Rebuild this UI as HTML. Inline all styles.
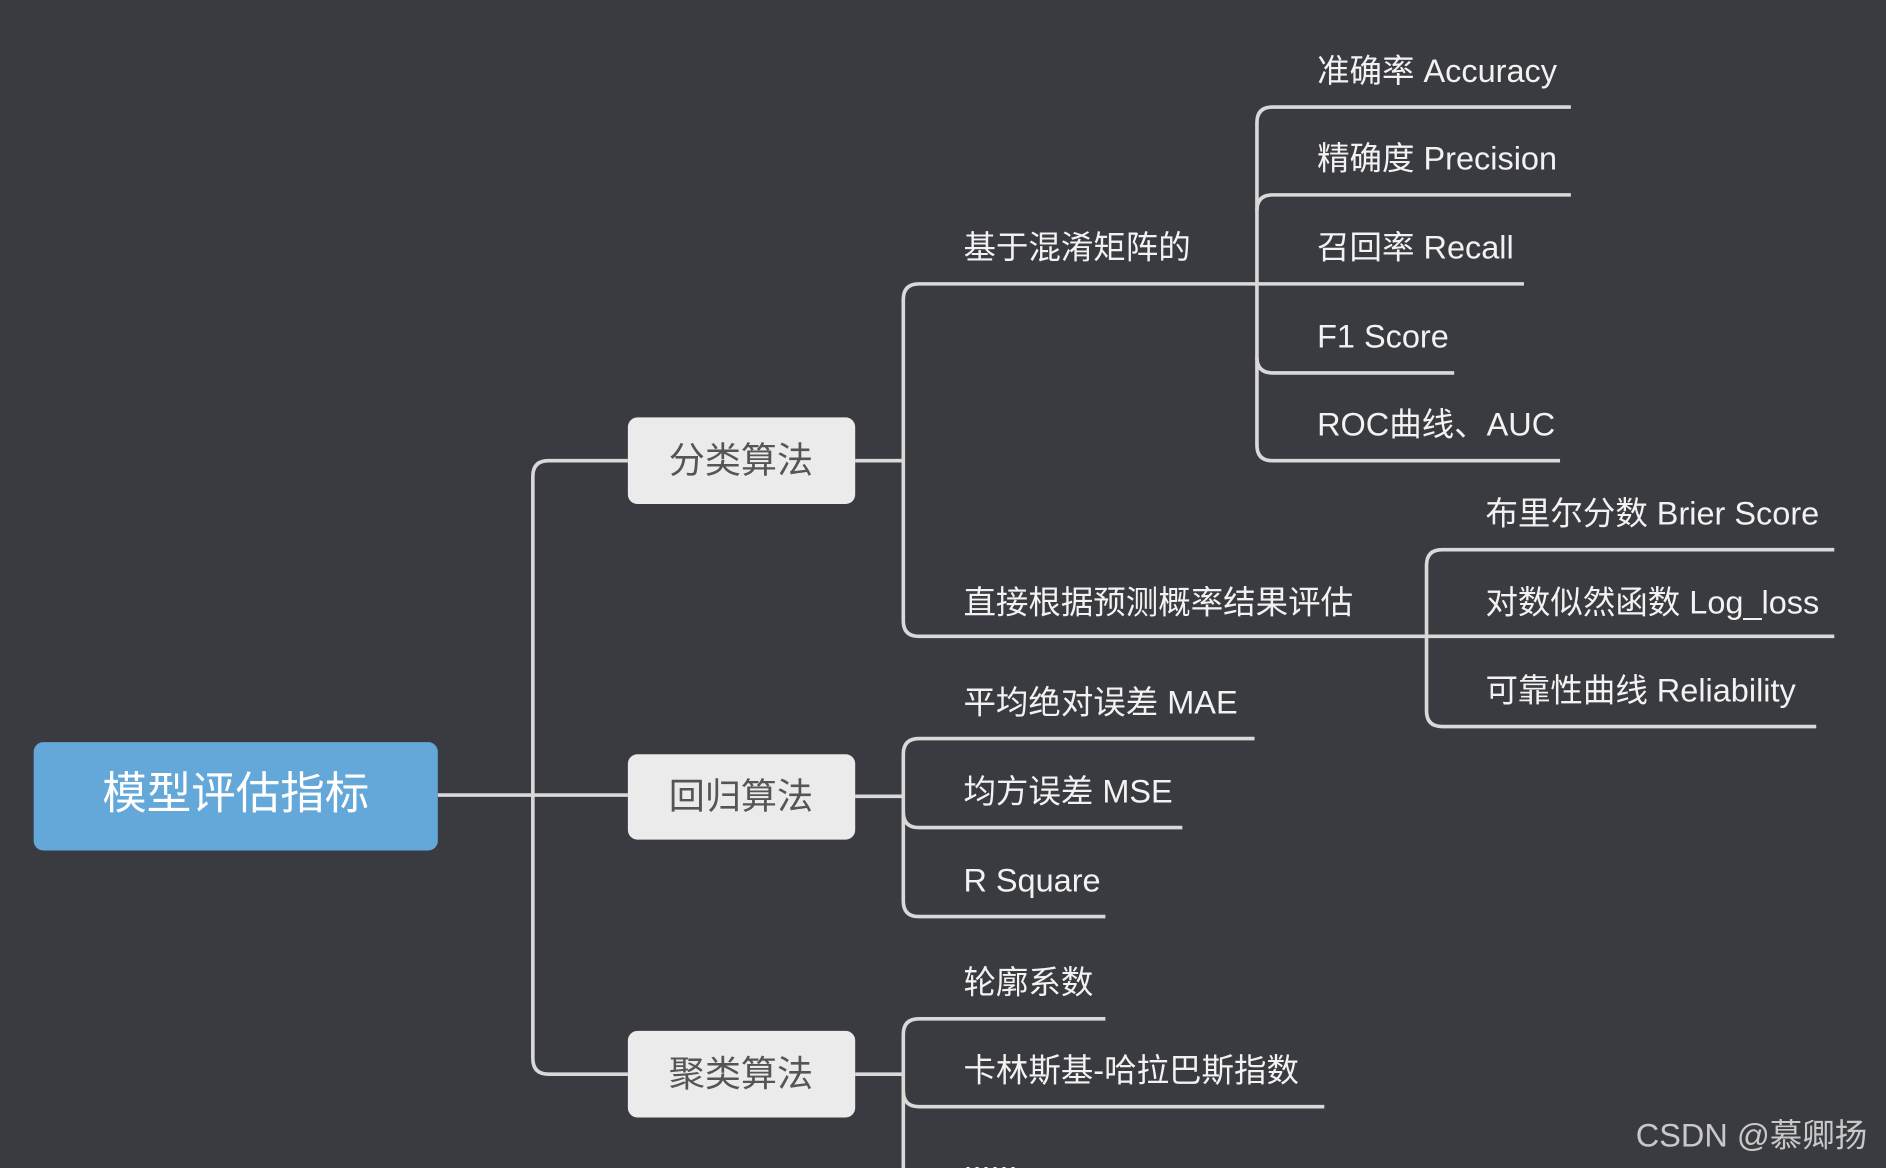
<!DOCTYPE html>
<html><head><meta charset="utf-8"><style>
html,body{margin:0;padding:0;background:#3a3b41;}
svg{display:block}
text{font-family:"Liberation Sans","Noto Sans CJK SC",sans-serif;}
</style></head><body>
<svg width="1886" height="1168" viewBox="0 0 1568 971" preserveAspectRatio="none" xmlns="http://www.w3.org/2000/svg">
<rect width="1568" height="971" fill="#3a3b41"/>
<g fill="none" stroke="#d9d9d9" stroke-width="3">
<path d="M364 661 H522"/>
<path d="M522 383 H456 Q443 383 443 396 V880 Q443 893 456 893 H522"/>
<path d="M711 383 H751"/>
<path d="M1045 236 H764 Q751 236 751 249 V516 Q751 529 764 529 H1525"/>
<path d="M1306 89 H1058 Q1045 89 1045 102 V370 Q1045 383 1058 383 H1297"/>
<path d="M1306 162 H1058 Q1045 162 1045 175"/>
<path d="M1045 236 H1267"/>
<path d="M1045 297 Q1045 310 1058 310 H1209"/>
<path d="M1525 457 H1199 Q1186 457 1186 470 V591 Q1186 604 1199 604 H1510"/>
<path d="M711 662 H751"/>
<path d="M1043 614 H764 Q751 614 751 627 V749 Q751 762 764 762 H919"/>
<path d="M751 675 Q751 688 764 688 H983"/>
<path d="M711 893 H751"/>
<path d="M919 847 H764 Q751 847 751 860 V971"/>
<path d="M751 907 Q751 920 764 920 H1101"/>
</g>
<rect x="28" y="617" width="336" height="90" rx="8" fill="#64a7d9"/>
<text x="196" y="672" font-size="37" fill="#fff" text-anchor="middle">模型评估指标</text>
<g fill="#ebebeb">
<rect x="522" y="347" width="189" height="72" rx="8"/>
<rect x="522" y="627" width="189" height="71" rx="8"/>
<rect x="522" y="857" width="189" height="72" rx="8"/>
</g>
<g fill="#555" font-size="30" text-anchor="middle">
<text x="616" y="393">分类算法</text>
<text x="616" y="672">回归算法</text>
<text x="616" y="903">聚类算法</text>
</g>
<g fill="#f2f2f2" font-size="27">
<text x="1095" y="68">准确率 Accuracy</text>
<text x="1095" y="141">精确度 Precision</text>
<text x="1095" y="215">召回率 Recall</text>
<text x="1095" y="289">F1 Score</text>
<text x="1095" y="362">ROC曲线、AUC</text>
<text x="801" y="215">基于混淆矩阵的</text>
<text x="801" y="510">直接根据预测概率结果评估</text>
<text x="1235" y="436">布里尔分数 Brier Score</text>
<text x="1235" y="510">对数似然函数 Log_loss</text>
<text x="1235" y="583">可靠性曲线 Reliability</text>
<text x="801" y="593">平均绝对误差 MAE</text>
<text x="801" y="667">均方误差 MSE</text>
<text x="801" y="741">R Square</text>
<text x="801" y="826">轮廓系数</text>
<text x="801" y="899">卡林斯基-哈拉巴斯指数</text>
<text x="801" y="973">......</text>
</g>
<text x="1360" y="953" font-size="27" fill="#c8c8c8">CSDN @慕卿扬</text>
</svg>
</body></html>
